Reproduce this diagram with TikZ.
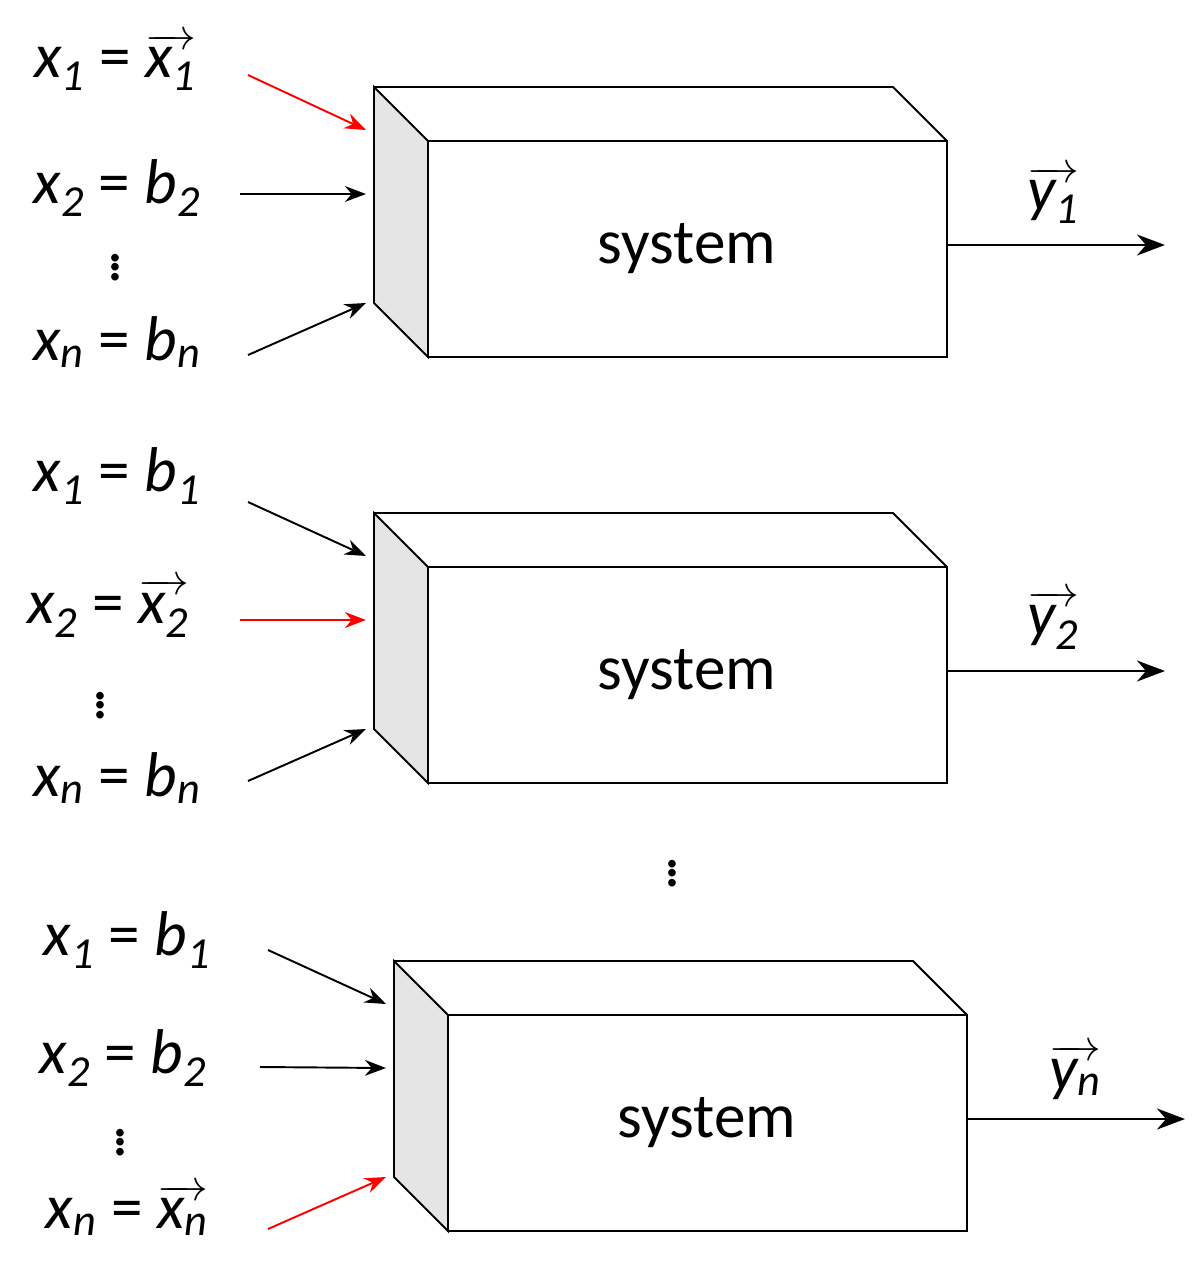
\documentclass[tikz,border=0pt]{standalone}
\usepackage{fontspec}
\setmainfont{Carlito}
\usetikzlibrary{arrows.meta}
\newcommand{\vx}[1]{$\overrightarrow{\hbox{\itshape #1}}$}
\newcommand{\ix}[2]{{\itshape #1}\textsubscript{\itshape #2}}

\begin{document}
\begin{tikzpicture}[x=0.02cm, y=-0.02cm, line width=1.1pt,
                    every node/.style={font=\fontsize{36}{40}\selectfont},
                    side/.style={fill=black!10, draw=black},
                    input/.style={-{Stealth[length=12pt,width=9pt]}},
                    output/.style={-{Stealth[length=16pt,width=12pt]}},
                    hot/.style={input, red}]
  \useasboundingbox (0,0) rectangle (1202,1276);

  % box drawing: name, x, y of back top left corner
  \foreach \sys/\bx/\by in {A/374/87, B/374/513, C/394/961} {
    \draw[side] (\bx,\by) -- ++(54,54) -- ++(0,216) -- ++(-54,-54) -- cycle;
    \draw (\bx,\by) -- ++(519,0) -- ++(54,54);
    \draw (\bx+54,\by+54) rectangle ++(519,216);
    \node (sys\sys) at (\bx+313,\by+162) {system};
    \coordinate (in1\sys) at (\bx-8,\by+43);
    \coordinate (in2\sys) at (\bx-8,\by+107);
    \coordinate (in3\sys) at (\bx-8,\by+216);
    \coordinate (out\sys) at (\bx+573,\by+158);
    \coordinate (end\sys) at (\bx+791,\by+158);
  }

  % first system
  \node (a1) at (115,62) {\ix{x}{1} = \vx{x\textsubscript{1}}};
  \node (a2) at (117,188) {\ix{x}{2} = \ix{b}{2}};
  \node (a3) at (117,342) {\ix{x}{n} = \ix{b}{n}};
  \node (adots) at (115,262) {$\vdots$};
  \coordinate (a1s) at (248,75);
  \coordinate (a2s) at (240,194);
  \coordinate (a3s) at (248,355);
  \draw[hot] (a1s) -- (in1A);
  \draw[input] (a2s) -- (in2A);
  \draw[input] (a3s) -- (in3A);
  \draw[output] (outA) -- (endA);
  \node (ya) at (1053,195) {\vx{y\textsubscript{1}}};

  % second system
  \node (b1) at (117,476) {\ix{x}{1} = \ix{b}{1}};
  \node (b2) at (108,608) {\ix{x}{2} = \vx{x\textsubscript{2}}};
  \node (b3) at (117,778) {\ix{x}{n} = \ix{b}{n}};
  \node (bdots) at (100,700) {$\vdots$};
  \coordinate (b1s) at (248,502);
  \coordinate (b2s) at (240,620);
  \coordinate (b3s) at (248,781);
  \draw[input] (b1s) -- (in1B);
  \draw[hot] (b2s) -- (in2B);
  \draw[input] (b3s) -- (in3B);
  \draw[output] (outB) -- (endB);
  \node (yb) at (1053,620) {\vx{y\textsubscript{2}}};

  \node (mdots) at (672,868) {$\vdots$};

  % last system
  \node (c1) at (127,940) {\ix{x}{1} = \ix{b}{1}};
  \node (c2) at (123,1058) {\ix{x}{2} = \ix{b}{2}};
  \node (c3) at (127,1210) {\ix{x}{n} = \vx{x\textsubscript{n}}};
  \node (cdots) at (120,1137) {$\vdots$};
  \coordinate (c1s) at (268,950);
  \coordinate (c2s) at (260,1067);
  \coordinate (c3s) at (268,1229);
  \draw[input] (c1s) -- (in1C);
  \draw[input] (c2s) -- (in2C);
  \draw[hot] (c3s) -- (in3C);
  \draw[output] (outC) -- (endC);
  \node (yc) at (1075,1072) {\vx{y\textsubscript{n}}};
\end{tikzpicture}
\end{document}
